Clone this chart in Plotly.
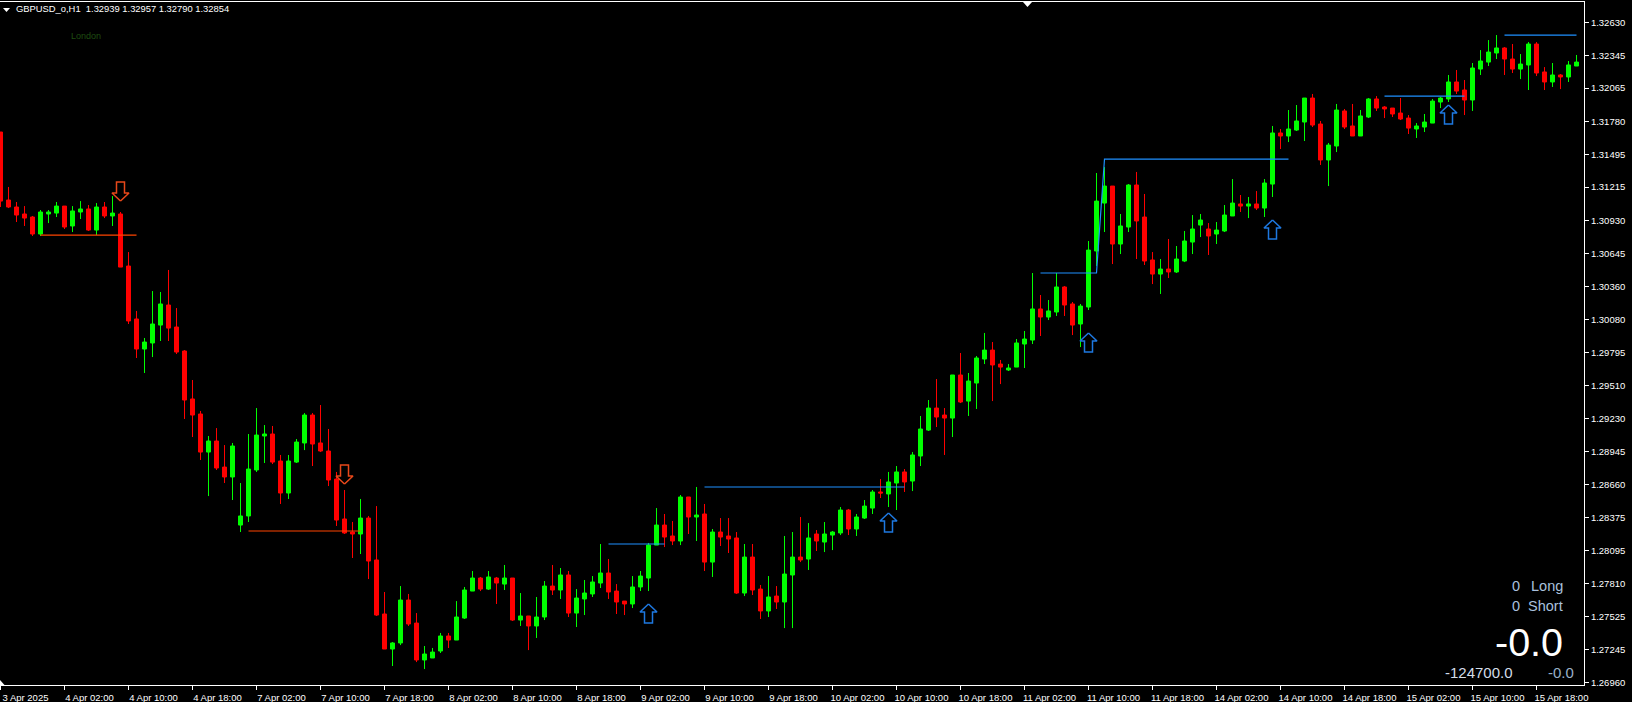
import plotly.graph_objects as go

open_ = [1.31688,1.31104,1.31044,1.30984,1.30958,1.30812,1.30984,1.30992,1.31052,1.30881,
1.31001,1.31027,1.30846,1.31044,1.30967,1.30984,1.30537,1.30082,1.29824,1.29876,
1.30030,1.30202,1.30013,1.29807,1.29395,1.29266,1.28939,1.29034,1.28810,1.28725,
1.28312,1.28390,1.28785,1.29077,1.29094,1.28862,1.28587,1.28853,1.29017,1.29257,
1.29017,1.28948,1.28707,1.28364,1.28252,1.28235,1.28372,1.28012,1.27548,1.27247,
1.27299,1.27668,1.27470,1.27153,1.27170,1.27230,1.27359,1.27324,1.27513,1.27745,
1.27857,1.27762,1.27857,1.27805,1.27857,1.27496,1.27531,1.27445,1.27522,1.27788,
1.27754,1.27883,1.27556,1.27677,1.27720,1.27814,1.27900,1.27745,1.27659,1.27634,
1.27780,1.27857,1.28140,1.28312,1.28218,1.28175,1.28553,1.28381,1.28407,1.27994,
1.28252,1.28218,1.28201,1.27728,1.28037,1.27762,1.27574,1.27702,1.27651,1.27883,
1.28037,1.28020,1.28235,1.28166,1.28226,1.28244,1.28441,1.28278,1.28372,1.28458,
1.28596,1.28579,1.28673,1.28768,1.28690,1.28905,1.29128,1.29317,1.29257,1.29231,
1.29601,1.29377,1.29532,1.29738,1.29815,1.29695,1.29644,1.29669,1.29867,1.29901,
1.30168,1.30099,1.30142,1.30357,1.30211,1.30039,1.30185,1.30666,1.31078,1.31224,
1.30726,1.30872,1.31233,1.30958,1.30589,1.30468,1.30511,1.30486,1.30580,1.30743,
1.30889,1.30855,1.30812,1.30838,1.30967,1.31070,1.31052,1.31070,1.31035,1.31241,
1.31680,1.31654,1.31705,1.31774,1.31980,1.31757,1.31448,1.31568,1.31869,1.31740,
1.31654,1.31817,1.31972,1.31903,1.31894,1.31851,1.31808,1.31714,1.31731,1.31765,
1.31946,1.31972,1.32118,1.32049,1.31963,1.32229,1.32289,1.32367,1.32410,1.32315,
1.32229,1.32264,1.32444,1.32204,1.32118,1.32178,1.32161,1.32255]

high = [1.31688,1.31216,1.31087,1.31052,1.30967,1.31018,1.31018,1.31087,1.31052,1.31052,
1.31095,1.31061,1.31078,1.31087,1.31138,1.31001,1.30657,1.30151,1.29919,1.30322,
1.30314,1.30503,1.30176,1.29815,1.29558,1.29292,1.29077,1.29145,1.28999,1.29017,
1.28673,1.29094,1.29317,1.29171,1.29163,1.28914,1.28914,1.29051,1.29274,1.29274,
1.29343,1.29137,1.28768,1.28613,1.28338,1.28536,1.28390,1.28475,1.27737,1.27307,
1.27788,1.27720,1.27556,1.27273,1.27256,1.27385,1.27385,1.27659,1.27780,1.27917,
1.27866,1.27917,1.27866,1.27969,1.27857,1.27728,1.27531,1.27694,1.27831,1.27969,
1.27943,1.27917,1.27762,1.27840,1.27874,1.28149,1.28020,1.27805,1.27659,1.27874,
1.27917,1.28158,1.28458,1.28407,1.28347,1.28570,1.28553,1.28639,1.28493,1.28278,
1.28372,1.28372,1.28252,1.28149,1.28149,1.27797,1.27874,1.27788,1.28218,1.28252,
1.28381,1.28329,1.28269,1.28338,1.28261,1.28467,1.28450,1.28407,1.28527,1.28613,
1.28707,1.28768,1.28819,1.28793,1.28939,1.29249,1.29386,1.29566,1.29317,1.29601,
1.29790,1.29618,1.29764,1.29962,1.29884,1.29730,1.29695,1.29910,1.29979,1.30477,
1.30288,1.30245,1.30477,1.30365,1.30228,1.30211,1.30752,1.31336,1.31387,1.31224,
1.30984,1.31241,1.31345,1.31156,1.30657,1.30597,1.30769,1.30709,1.30838,1.30975,
1.30984,1.30906,1.30915,1.31061,1.31284,1.31147,1.31130,1.31181,1.31284,1.31740,
1.31714,1.31877,1.31920,1.31980,1.32015,1.31783,1.31594,1.31929,1.31886,1.31929,
1.31877,1.31980,1.31997,1.31911,1.31894,1.31980,1.31834,1.31765,1.31843,1.31972,
1.31989,1.32178,1.32221,1.32135,1.32281,1.32392,1.32478,1.32521,1.32418,1.32444,
1.32358,1.32461,1.32461,1.32246,1.32281,1.32186,1.32298,1.32350]

low = [1.31044,1.31035,1.30915,1.30881,1.30795,1.30795,1.30906,1.30958,1.30855,1.30829,
1.30941,1.30838,1.30803,1.30949,1.30881,1.30528,1.30039,1.29747,1.29618,1.29755,
1.29893,1.29893,1.29781,1.29223,1.29068,1.28871,1.28561,1.28785,1.28673,1.28527,
1.28252,1.28338,1.28768,1.28845,1.28836,1.28493,1.28536,1.28845,1.28956,1.28819,
1.28939,1.28647,1.28304,1.28235,1.28029,1.28063,1.27848,1.27531,1.27247,1.27101,
1.27281,1.27445,1.27135,1.27075,1.27170,1.27213,1.27256,1.27324,1.27505,1.27745,
1.27745,1.27754,1.27634,1.27754,1.27488,1.27445,1.27238,1.27342,1.27496,1.27711,
1.27677,1.27522,1.27436,1.27539,1.27694,1.27771,1.27677,1.27548,1.27539,1.27599,
1.27745,1.27745,1.28140,1.28123,1.28140,1.28140,1.28235,1.28175,1.27917,1.27866,
1.28132,1.28072,1.27720,1.27702,1.27711,1.27505,1.27522,1.27591,1.27427,1.27427,
1.27994,1.27926,1.28089,1.28080,1.28097,1.28226,1.28226,1.28218,1.28364,1.28407,
1.28544,1.28467,1.28441,1.28596,1.28604,1.28819,1.29120,1.29154,1.28914,1.29068,
1.29360,1.29249,1.29309,1.29695,1.29377,1.29523,1.29635,1.29669,1.29661,1.29867,
1.29936,1.30073,1.30108,1.30108,1.29944,1.29841,1.30159,1.30537,1.30829,1.30554,
1.30640,1.30829,1.30597,1.30546,1.30382,1.30297,1.30434,1.30477,1.30571,1.30640,
1.30786,1.30632,1.30726,1.30829,1.30967,1.31001,1.30949,1.31018,1.30958,1.31130,
1.31542,1.31602,1.31697,1.31611,1.31731,1.31405,1.31224,1.31516,1.31714,1.31654,
1.31654,1.31808,1.31869,1.31808,1.31817,1.31791,1.31671,1.31637,1.31688,1.31765,
1.31894,1.31946,1.32015,1.31834,1.31869,1.32178,1.32255,1.32315,1.32178,1.32195,
1.32143,1.32049,1.32169,1.32049,1.32075,1.32057,1.32118,1.32255]

close = [1.31095,1.31044,1.30975,1.30949,1.30812,1.31001,1.31001,1.31052,1.30872,1.31010,
1.31027,1.30846,1.31044,1.30967,1.30992,1.30528,1.30065,1.29824,1.29884,1.30039,
1.30211,1.30004,1.29798,1.29386,1.29257,1.28939,1.29034,1.28802,1.28725,1.28991,
1.28390,1.28793,1.29085,1.29094,1.28853,1.28587,1.28862,1.29025,1.29257,1.29008,
1.28948,1.28699,1.28355,1.28244,1.28235,1.28372,1.28003,1.27539,1.27247,1.27299,
1.27668,1.27462,1.27153,1.27204,1.27221,1.27359,1.27324,1.27522,1.27754,1.27857,
1.27762,1.27866,1.27814,1.27857,1.27496,1.27531,1.27445,1.27522,1.27788,1.27754,
1.27883,1.27556,1.27685,1.27728,1.27823,1.27900,1.27737,1.27651,1.27634,1.27780,
1.27874,1.28140,1.28312,1.28209,1.28175,1.28553,1.28381,1.28398,1.27994,1.28252,
1.28209,1.28192,1.27728,1.28037,1.27754,1.27574,1.27694,1.27651,1.27891,1.28037,
1.28012,1.28201,1.28175,1.28235,1.28252,1.28441,1.28278,1.28381,1.28475,1.28596,
1.28587,1.28682,1.28768,1.28682,1.28914,1.29137,1.29317,1.29240,1.29231,1.29601,
1.29369,1.29549,1.29747,1.29815,1.29687,1.29669,1.29661,1.29876,1.29910,1.30168,
1.30099,1.30151,1.30357,1.30202,1.30030,1.30193,1.30674,1.31095,1.31224,1.30726,
1.30881,1.31233,1.30924,1.30580,1.30468,1.30511,1.30486,1.30597,1.30752,1.30855,
1.30932,1.30795,1.30846,1.30975,1.31078,1.31052,1.31070,1.31035,1.31250,1.31680,
1.31654,1.31714,1.31783,1.31980,1.31748,1.31448,1.31576,1.31877,1.31731,1.31654,
1.31826,1.31972,1.31894,1.31886,1.31843,1.31800,1.31722,1.31740,1.31774,1.31954,
1.31980,1.32118,1.32040,1.31963,1.32238,1.32298,1.32375,1.32410,1.32315,1.32229,
1.32272,1.32444,1.32195,1.32118,1.32178,1.32161,1.32264,1.32289]

bar_index = list(range(len(open_)))

time_tick_index = [0,8,16,24,32,40,48,56,64,72,80,88,96,104,112,120,128,136,144,152,160,168,176,184,192]
time_tick_labels = ["3 Apr 2025","4 Apr 02:00","4 Apr 10:00","4 Apr 18:00","7 Apr 02:00","7 Apr 10:00",
    "7 Apr 18:00","8 Apr 02:00","8 Apr 10:00","8 Apr 18:00","9 Apr 02:00","9 Apr 10:00","9 Apr 18:00",
    "10 Apr 02:00","10 Apr 10:00","10 Apr 18:00","11 Apr 02:00","11 Apr 10:00","11 Apr 18:00",
    "14 Apr 02:00","14 Apr 10:00","14 Apr 18:00","15 Apr 02:00","15 Apr 10:00","15 Apr 18:00"]
price_ticks = [1.32630,1.32345,1.32065,1.31780,1.31495,1.31215,1.30930,1.30645,1.30360,1.30080,1.29795,
    1.29510,1.29230,1.28945,1.28660,1.28375,1.28095,1.27810,1.27525,1.27245,1.26960]
price_tick_labels = [f"{v:.5f}" for v in price_ticks]

# breakout levels: (bar indices, prices)
red_level_bars = [[5, 17], [31, 45]]
red_level_prices = [[1.30803, 1.30803], [1.28261, 1.28261]]
blue_level_bars = [[76, 83], [88, 113], [130, 137, 138, 161], [173, 183], [188, 197]]
blue_level_prices = [[1.28149, 1.28149], [1.28639, 1.28639], [1.30477, 1.30477, 1.31456, 1.31456],
                     [1.31997, 1.31997], [1.32521, 1.32521]]

# signal arrows: bar index and tip price
down_arrow_bars = [15, 43]
down_arrow_tips = [1.31095, 1.28664]
up_arrow_bars = [81, 111, 136, 159, 181]
up_arrow_tips = [1.27634, 1.28415, 1.29962, 1.30932, 1.31920]

PLOT_W, PLOT_H, TOP = 1584, 683, 2
X_RANGE = [-0.0625, 197.9375]
Y_RANGE = [1.26938, 1.32805]
BAR_PX = PLOT_W / (X_RANGE[1] - X_RANGE[0])
PRICE_PX = (Y_RANGE[1] - Y_RANGE[0]) / PLOT_H


def arrow_trace(bars, tips, direction, color):
    xs, ys = [], []
    shape = [(0, 0), (8.5, 8), (4, 8), (4, 19), (-4, 19), (-4, 8), (-8.5, 8), (0, 0)]
    for b, t in zip(bars, tips):
        for dx, dy in shape:
            xs.append(b + dx / BAR_PX)
            ys.append(t + direction * dy * PRICE_PX)
        xs.append(None)
        ys.append(None)
    return go.Scatter(x=xs, y=ys, mode="lines", line=dict(color=color, width=1.5),
                      hoverinfo="skip", showlegend=False)


fig = go.Figure()
fig.add_trace(go.Candlestick(
    x=bar_index, open=open_, high=high, low=low, close=close,
    increasing=dict(line=dict(color="#00ff00", width=1), fillcolor="#00ff00"),
    decreasing=dict(line=dict(color="#ff0000", width=1), fillcolor="#ff0000"),
    whiskerwidth=0, showlegend=False, name="GBPUSD_o,H1"))

for xs, ys in zip(red_level_bars, red_level_prices):
    fig.add_trace(go.Scatter(x=xs, y=ys, mode="lines", line=dict(color="#ff4500", width=1.2),
                             hoverinfo="skip", showlegend=False))
for xs, ys in zip(blue_level_bars, blue_level_prices):
    fig.add_trace(go.Scatter(x=xs, y=ys, mode="lines", line=dict(color="#1e90ff", width=1.2),
                             hoverinfo="skip", showlegend=False))
fig.add_trace(arrow_trace(down_arrow_bars, down_arrow_tips, 1, "#e8481a"))
fig.add_trace(arrow_trace(up_arrow_bars, up_arrow_tips, -1, "#1e78e0"))


def px(x):
    return x / PLOT_W


def py(y):
    return 1 - (y - TOP) / PLOT_H


def label(text, x, y, size, color, anchor="left", font="Liberation Sans"):
    return dict(text=text, xref="paper", yref="paper", x=px(x), y=py(y), xanchor=anchor, yanchor="middle",
                showarrow=False, borderpad=0, font=dict(family=font, size=size, color=color))


annotations = [
    label("GBPUSD_o,H1&nbsp;&nbsp;1.32939 1.32957 1.32790 1.32854", 14.5, 9, 9.4, "#ffffff"),
    label("London", 69.5, 36, 9, "#1f4d10"),
    label("0", 1521, 586, 14.5, "#a9c0de", "right"),
    label("Long", 1564, 586, 14.5, "#a9c0de", "right"),
    label("0", 1521, 606, 14.5, "#a9c0de", "right"),
    label("Short", 1564, 606, 14.5, "#a9c0de", "right"),
    label("-0.0", 1564, 642, 39.5, "#ffffff", "right"),
    label("-124700.0", 1514, 672, 15, "#d3dde8", "right"),
    label("-0.0", 1574.5, 672, 15, "#9ab0c8", "right"),
]


def tri(points):
    d = "M " + " L ".join(f"{px(a):.5f},{py(b):.5f}" for a, b in points) + " Z"
    return dict(type="path", xref="paper", yref="paper", path=d, fillcolor="#ffffff",
                line=dict(width=0), layer="above")


shapes = [tri([(3, 8), (10, 8), (6.5, 12)]),
          tri([(1023, 2), (1032, 2), (1027.5, 7)]),
          tri([(0, 680), (4.5, 685), (0, 685)])]

fig.update_layout(
    width=1632, height=702, autosize=False,
    paper_bgcolor="#000000", plot_bgcolor="#000000",
    margin=dict(l=0, r=48, t=TOP, b=17, pad=0),
    boxgap=0.5, boxgroupgap=0, hovermode=False, showlegend=False,
    annotations=annotations, shapes=shapes,
    xaxis=dict(type="linear", range=X_RANGE, rangeslider=dict(visible=False), showgrid=False, zeroline=False,
               tickmode="array", tickvals=time_tick_index, ticktext=time_tick_labels, ticks="outside",
               ticklen=4, tickwidth=1, tickcolor="#ffffff", showline=True, linecolor="#ffffff", linewidth=1,
               mirror=True, ticklabelshift=25, ticklabeloverflow="allow", ticklabelstandoff=0,
               tickfont=dict(family="Liberation Sans", size=9.5, color="#ffffff")),
    yaxis=dict(side="right", range=Y_RANGE, showgrid=False, zeroline=False, tickmode="array",
               tickvals=price_ticks, ticktext=price_tick_labels, ticks="outside", ticklen=4, tickwidth=1,
               tickcolor="#ffffff", showline=True, linecolor="#ffffff", linewidth=1,
               tickfont=dict(family="Liberation Sans", size=9.5, color="#ffffff")),
)

fig.write_html("out.html", config={"displayModeBar": False},
               post_script="document.body.style.margin='0';document.body.style.background='#000';")
